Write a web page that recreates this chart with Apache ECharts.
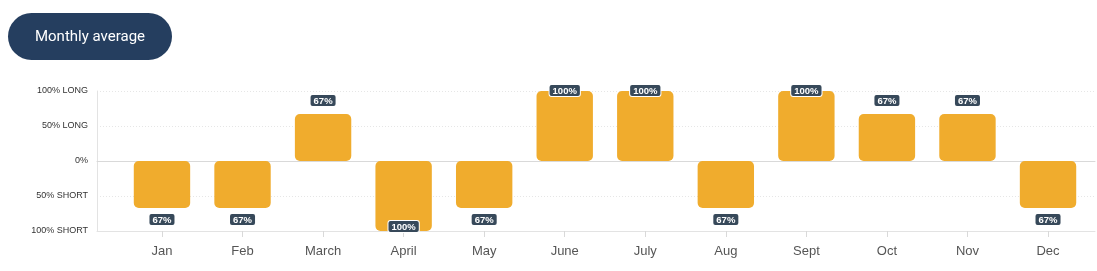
<!DOCTYPE html>
<html><head><meta charset="utf-8">
<script src="https://cdn.jsdelivr.net/npm/echarts@6/dist/echarts.min.js"></script>
<style>html,body{margin:0;padding:0;background:#fff}#c{width:1097px;height:271px}</style>
</head><body><div id="c"></div>
<script>
const months = ['Jan','Feb','March','April','May','June','July','Aug','Sept','Oct','Nov','Dec'];
const values = [-67,-67,67,-100,-67,100,100,-67,100,67,67,-67];
const yTicks = {'100':'100% LONG','50':'50% LONG','0':'0%','-50':'50% SHORT','-100':'100% SHORT'};
const titleText = 'Monthly average';

const BAR = '#F0AC2D', LBL = '#37495A';
const data = values.map(v => {
  const lab = {show:true, formatter: Math.abs(v)+'%'};
  if (v >= 100) { lab.position = 'insideTop'; lab.offset = [0,-11]; }
  else if (v <= -100) { lab.position = 'insideBottom'; lab.offset = [0,6]; }
  else if (v > 0) { lab.position = 'top'; lab.distance = 8; }
  else { lab.position = 'bottom'; lab.distance = 6; }
  return {value: v, label: lab};
});

const chart = echarts.init(document.getElementById('c'), null, {renderer:'canvas'});
chart.setOption({
  animation:false,
  graphic:[
    {type:'rect', shape:{x:8,y:13,width:164,height:47,r:23.5}, style:{fill:'#253E5F'}},
    {type:'text', x:90, y:37, style:{text:titleText, fill:'#fff', font:'15px Roboto', align:'center', verticalAlign:'middle'}}
  ],
  grid:[
    {left:97, right:2, top:91, bottom:40},
    {left:121.7, right:8.7, top:91, bottom:40}
  ],
  xAxis:[
    {type:'value', gridIndex:0, min:0, max:1, axisLabel:{show:false}, axisTick:{show:false}, splitLine:{show:false},
      axisLine:{show:true, onZero:true, lineStyle:{color:'#d9d9d9', width:1}}},
    {type:'value', gridIndex:0, min:0, max:1, position:'bottom', axisLabel:{show:false}, axisTick:{show:false}, splitLine:{show:false},
      axisLine:{show:true, onZero:false, lineStyle:{color:'#e3e3e3', width:1}}},
    {type:'category', gridIndex:1, data:months, axisLine:{show:false, onZero:false},
      axisTick:{show:true, alignWithLabel:true, length:6, lineStyle:{color:'#d9d9d9'}},
      axisLabel:{color:'#555', fontSize:13, fontFamily:'Liberation Sans, Arial', margin:14}}
  ],
  yAxis:[
    {type:'value', gridIndex:0, min:-100, max:100, interval:50,
      axisLine:{show:true, lineStyle:{color:'#e3e3e3'}}, axisTick:{show:false},
      axisLabel:{color:'#333', fontSize:9, fontFamily:'Liberation Sans, Arial', margin:9, formatter: v => yTicks[String(v)]},
      splitLine:{show:true, lineStyle:{color:'#e6e6e6', type:[1,2], width:1}}},
    {type:'value', gridIndex:1, min:-100, max:100, interval:50, show:false, splitLine:{show:false}}
  ],
  series:[{
    type:'bar', xAxisIndex:2, yAxisIndex:1, data:data, barCategoryGap:'30%',
    itemStyle:{color:BAR, borderRadius:5},
    label:{show:true, color:'#fff', fontSize:9.5, fontWeight:'bold', fontFamily:'Liberation Sans, Arial',
      backgroundColor:LBL, padding:[1,3,0,3], borderRadius:2, borderColor:'#fff', borderWidth:1, lineHeight:10}
  }]
});
</script></body></html>
